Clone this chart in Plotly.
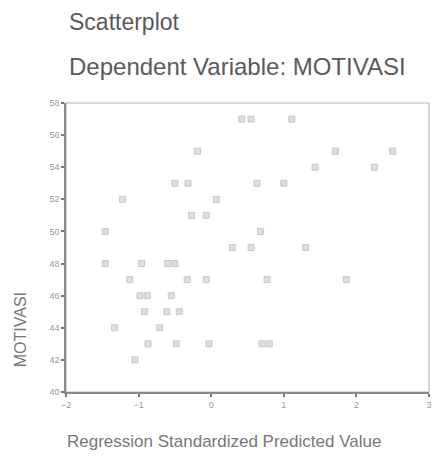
import plotly.graph_objects as go

# Regression standardized predicted value (x) and MOTIVASI (y)
pred_values = [0.42, 0.55, 1.11,
               -0.19, 1.71, 2.50,
               1.43, 2.25,
               -0.50, -0.32, 0.63, 1.00,
               -1.22, 0.07,
               -0.27, -0.07,
               -1.46, 0.68,
               0.29, 0.55, 1.30,
               -1.46, -0.96, -0.60, -0.50,
               -1.12, -0.33, -0.07, 0.77, 1.86,
               -0.98, -0.88, -0.55,
               -0.92, -0.61, -0.44,
               -1.33, -0.71,
               -0.87, -0.48, -0.03, 0.70, 0.80,
               -1.05]
motivasi = [57, 57, 57,
            55, 55, 55,
            54, 54,
            53, 53, 53, 53,
            52, 52,
            51, 51,
            50, 50,
            49, 49, 49,
            48, 48, 48, 48,
            47, 47, 47, 47, 47,
            46, 46, 46,
            45, 45, 45,
            44, 44,
            43, 43, 43, 43, 43,
            42]

x_ticks = [-2, -1, 0, 1, 2, 3]
y_ticks = [40, 42, 44, 46, 48, 50, 52, 54, 56, 58]

title_main = "Scatterplot"
title_sub = "Dependent Variable: MOTIVASI"
x_title = "Regression Standardized Predicted Value"
y_title = "MOTIVASI"

FONT = "Liberation Sans, Arial, sans-serif"

fig = go.Figure()
fig.add_trace(go.Scatter(
    x=pred_values, y=motivasi, mode="markers",
    marker=dict(symbol="square", size=6, color="rgba(215,215,215,0.8)",
                line=dict(color="rgba(195,195,195,0.9)", width=1)),
    showlegend=False, hoverinfo="x+y",
))

axis_common = dict(
    showgrid=False, zeroline=False, showline=True, linecolor="#8a8a8a",
    linewidth=1.5, mirror=False, ticks="outside", ticklen=3, tickwidth=1.5,
    tickcolor="#777", tickfont=dict(family=FONT, size=9, color="#999"),
)
fig.update_xaxes(range=[-2, 3], tickvals=x_ticks, **axis_common)
fig.update_yaxes(range=[40, 58], tickvals=y_ticks, **axis_common)

fig.update_layout(
    width=435, height=463,
    margin=dict(l=66, r=3, t=103, b=71),
    plot_bgcolor="white", paper_bgcolor="white",
    shapes=[dict(type="rect", xref="paper", yref="paper", x0=0, y0=0, x1=1, y1=1,
                 line=dict(color="#b5b5b5", width=1.2), layer="below")],
    annotations=[
        dict(text=title_main, xref="paper", yref="paper", x=0.003, y=1.280,
             xanchor="left", yanchor="middle", showarrow=False,
             font=dict(family=FONT, size=23, color="#5a5a5a")),
        dict(text=title_sub, xref="paper", yref="paper", x=0.003, y=1.125,
             xanchor="left", yanchor="middle", showarrow=False,
             font=dict(family=FONT, size=24, color="#5a5a5a")),
        dict(text=x_title, xref="paper", yref="paper", x=0.434, y=-0.173,
             xanchor="center", yanchor="middle", showarrow=False,
             font=dict(family=FONT, size=17, color="#777")),
        dict(text=y_title, xref="paper", yref="paper", x=-0.126, y=0.2145,
             xanchor="center", yanchor="middle", showarrow=False, textangle=-90,
             font=dict(family=FONT, size=16, color="#777")),
    ],
)

fig.write_html("out.html")
